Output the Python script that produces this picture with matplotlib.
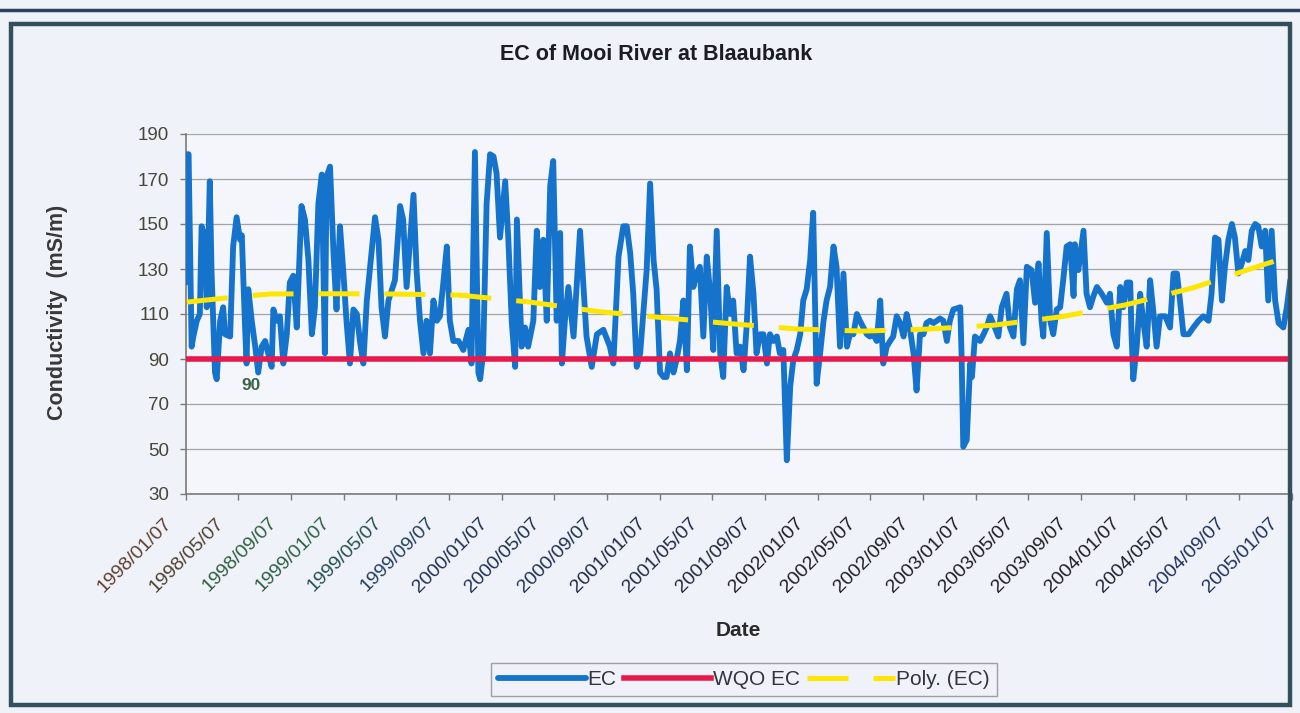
import numpy as np
import matplotlib
matplotlib.use("Agg")
import matplotlib.pyplot as plt
from matplotlib.transforms import ScaledTranslation
from matplotlib.patches import Rectangle
from matplotlib.lines import Line2D

plt.rcParams['font.family'] = ['Liberation Sans', 'DejaVu Sans']

# ---------------- data ----------------
start_date = np.datetime64('1998-01-07')
# EC readings: days since 1998-01-07 and conductivity (mS/m)
ec_days = [0, 2, 6, 13, 17, 25, 32, 36, 44, 48, 55, 59, 67, 71, 79, 86, 90, 102, 109, 117,
           125, 129, 136, 140, 144, 152, 160, 167, 175, 183, 190, 198, 202, 210, 217, 225, 233, 240, 248, 256,
           267, 275, 283, 291, 298, 306, 314, 321, 325, 333, 341, 348, 356, 364, 371, 379, 387, 395, 402, 410,
           418, 437, 445, 452, 460, 468, 483, 495, 502, 510, 526, 533, 541, 549, 556, 564, 572, 580, 587, 595,
           603, 610, 618, 630, 641, 653, 660, 668, 676, 680, 687, 695, 703, 711, 718, 726, 738, 745, 753, 761,
           765, 776, 784, 791, 803, 811, 818, 826, 834, 842, 849, 857, 865, 869, 876, 884, 896,
           911, 919, 926, 938, 950, 965, 980, 988, 1000, 1011, 1019, 1027, 1034, 1042, 1050, 1057, 1065, 1073,
           1081, 1088, 1096, 1104, 1111, 1119, 1127, 1134, 1142, 1150, 1158, 1165, 1173, 1181, 1188, 1196, 1204,
           1212, 1219, 1227, 1235, 1242, 1250, 1258, 1265, 1273, 1281, 1289, 1296, 1304, 1312, 1319, 1327, 1335,
           1343, 1350, 1358, 1366, 1373, 1381, 1385, 1389, 1397, 1404, 1412, 1420, 1427, 1435, 1443, 1450, 1458,
           1466, 1474, 1481, 1489, 1497, 1504, 1512, 1520, 1528, 1535, 1543, 1551, 1558, 1566, 1574, 1581, 1589,
           1597, 1605, 1612, 1620, 1628, 1635, 1643, 1651, 1659, 1666, 1674, 1682, 1689, 1697, 1705, 1712, 1720,
           1728, 1736, 1743, 1751, 1759, 1766, 1774, 1782, 1790, 1793, 1797, 1805, 1813,
           1817, 1824, 1836, 1844, 1851, 1859, 1870, 1878, 1886, 1897, 1905, 1913, 1921, 1928, 1936, 1944, 1955,
           1963, 1971, 1978, 1982, 1990, 1998, 2005, 2013, 2021, 2028, 2036, 2044, 2052, 2055, 2063, 2075, 2082,
           2090, 2098, 2106, 2117, 2129, 2136, 2144, 2152, 2160, 2167, 2175, 2183, 2186, 2190, 2198, 2206, 2213,
           2221, 2229, 2237, 2244, 2252, 2264, 2275, 2283, 2291, 2298, 2306, 2318, 2329, 2341, 2352, 2364, 2371,
           2379, 2387, 2395, 2402, 2410, 2418, 2425, 2433, 2441, 2449, 2456, 2464, 2472, 2479, 2487, 2495, 2502,
           2510, 2518, 2526, 2537, 2545, 2553]
ec_values = [124, 181, 181, 95.5, 100, 107, 110, 149, 144, 113, 169, 129.5, 84, 81, 107, 113, 101, 100, 140, 153,
             143, 145, 107, 88, 121, 107, 95.5, 84, 95.5, 98, 92.5, 86.5, 112, 107, 109, 88, 101, 124, 127, 104,
             158, 152, 134, 101, 113, 159, 172, 92.5, 171, 175.5, 137, 112, 149, 128, 107, 88, 112, 110, 98, 88,
             116, 153, 143, 113, 100, 116, 125, 158, 152, 122, 163, 129.5, 107, 92.5, 107, 92.5, 116, 107, 109, 124,
             140, 107, 98, 98, 94, 103, 88, 182, 84, 81, 92.5, 159, 181, 180, 172.5, 144, 169, 144, 107, 86.5,
             152, 95.5, 104, 95.5, 107, 147, 122, 143, 107, 167, 178, 107, 146, 88, 107, 122, 100,
             147, 122, 100, 86.5, 101, 103, 95.5, 88, 135.5, 149, 149, 137, 119, 86.5, 92.5, 110, 129.5, 168,
             134, 121, 84, 82, 82, 92.5, 84, 89.5, 98, 116, 85, 140, 122, 128, 131, 100, 135.5,
             119, 94, 147, 92.5, 82, 122, 110, 116, 92.5, 95.5, 85, 104, 135.5, 119, 92.5, 101, 101,
             88, 101, 98, 100, 92.5, 94, 70, 45, 78, 89.5, 94, 101, 116, 121, 134, 155, 79,
             92.5, 107, 116, 122, 140, 131, 95.5, 128, 95.5, 101, 101, 110, 107, 104, 101, 100, 101,
             98, 116, 88, 95.5, 98, 100, 109, 106, 100, 110, 103, 92.5, 76, 101, 101, 106, 107,
             106, 107, 108, 107, 98, 107, 112, 112.5, 113, 92.5, 51, 54, 88,
             82, 100, 98, 101, 104, 109, 104, 100, 113, 119, 104, 100, 121, 125, 97, 131, 129.5,
             115, 132.5, 107, 100, 146, 107, 101, 112, 113, 125, 140, 141, 118, 141, 129.5, 147, 119,
             113, 118, 122, 119, 115, 119, 101, 95.5, 122, 113, 124, 124, 101, 81, 95.5, 119, 107,
             95.5, 125, 110, 95.5, 109, 109, 104, 128, 128, 116, 101, 101, 104, 107, 109, 107, 119,
             144, 143, 116, 131, 143, 150, 144, 128, 132.5, 138, 134, 147, 150, 149, 140, 147, 116,
             147, 116, 106, 104, 113, 125]

# Water quality objective
wqo_value = 90

# Polynomial trend (EC)
trend_days = [2, 102, 194, 330, 472, 633, 795, 957, 1112, 1265, 1415, 1565, 1716, 1866, 2021, 2171,
              2326, 2476, 2525]
trend_values = [115.3, 117.3, 118.9, 119.0, 118.9, 118.4, 115.3, 111.0, 108.2, 105.6, 103.3, 102.4,
                103.3, 105.0, 108.7, 114.0, 121.5, 131.0, 134.0]

tick_labels = ['1998/01/07', '1998/05/07', '1998/09/07', '1999/01/07', '1999/05/07', '1999/09/07',
               '2000/01/07', '2000/05/07', '2000/09/07', '2001/01/07', '2001/05/07', '2001/09/07',
               '2002/01/07', '2002/05/07', '2002/09/07', '2003/01/07', '2003/05/07', '2003/09/07',
               '2004/01/07', '2004/05/07', '2004/09/07', '2005/01/07']
tick_colors = ['#5e4030', '#50402f', '#2f5e40', '#2e5e44', '#24504e', '#22405e',
               '#203050', '#203050', '#20304e', '#202a44', '#202a44', '#20263c',
               '#1e1e22', '#1e1e22', '#1e1e22', '#1e1e22', '#1e1e22', '#1e1e22',
               '#1e1e22', '#1e2230', '#20305c', '#20305c']
y_ticks = [30, 50, 70, 90, 110, 130, 150, 170, 190]

# ---------------- figure ----------------
W, H = 1300, 713
BG = '#eff2f8'
fig = plt.figure(figsize=(W / 100, H / 100), dpi=100, facecolor=BG)

def fx(px):
    return px / W

def fy(py):
    return 1 - py / H

ax = fig.add_axes([fx(186), fy(494), fx(1292) - fx(186), fy(134) - fy(494)])
ax.set_facecolor('#f4f6fb')

ec_dates = start_date + np.array(ec_days).astype('timedelta64[D]')
tr_dates = start_date + np.array(trend_days).astype('timedelta64[D]')
tick_dates = [np.datetime64(s.replace('/', '-')) for s in tick_labels]

ax.plot(ec_dates, ec_values, color='#1673cc', lw=4.2, solid_joinstyle='round',
        solid_capstyle='round', label='EC', zorder=3)
ax.plot(ec_dates, np.full(len(ec_days), wqo_value), color='#e8194c', lw=4.0, label='WQO EC', zorder=4)
ax.plot(tr_dates, trend_values, color='#ffe600', lw=3.6, ls=(0, (8.2, 5.0)), label='Poly. (EC)',
        zorder=5)

ax.text(ec_dates[0] + np.timedelta64(128, 'D'), 78.3, '90', color='#3a6448', fontsize=12.5,
        fontweight='bold', ha='left', va='center', zorder=6)

ax.set_ylim(30, 190)
ax.set_xlim(start_date, np.datetime64('2005-01-07'))
ax.set_yticks(y_ticks)
ax.set_yticklabels([str(v) for v in y_ticks])
ax.grid(axis='y', color='#a4a4a4', lw=0.9)
ax.set_axisbelow(True)

for s in ['top', 'right']:
    ax.spines[s].set_visible(False)
for s in ['left', 'bottom']:
    ax.spines[s].set_color('#7a7a7a')
    ax.spines[s].set_linewidth(1.2)

ax.tick_params(axis='y', direction='out', length=4, width=1, color='#7a7a7a', pad=8,
               labelsize=13.5, labelcolor='#46463a')
ax.tick_params(axis='x', direction='out', length=4, width=1, color='#7a7a7a', pad=15,
               labelsize=14)

ax.set_xticks(tick_dates)
ax.set_xticklabels(tick_labels)
offset = ScaledTranslation(-0.17, 0, fig.dpi_scale_trans)
for lbl, c in zip(ax.get_xticklabels(), tick_colors):
    lbl.set_rotation(45)
    lbl.set_rotation_mode('anchor')
    lbl.set_ha('right')
    lbl.set_va('center')
    lbl.set_color(c)
    lbl.set_transform(lbl.get_transform() + offset)

# texts
fig.text(fx(656), fy(55), 'EC of Mooi River at Blaaubank', ha='center', va='center',
         fontsize=15.5, fontweight='bold', color='#1c1c22')
fig.text(fx(58), fy(312), 'Conductivity  (mS/m)', ha='center', va='center', rotation=90,
         fontsize=15.5, fontweight='bold', color='#383838')
fig.text(fx(738), fy(630), 'Date', ha='center', va='center', fontsize=15, fontweight='bold',
         color='#2a2a2a')

leg = fig.legend(loc='center', bbox_to_anchor=(fx(744), fy(679.5)), ncol=3, frameon=True,
                 fancybox=False, fontsize=15, handlelength=4.2, handletextpad=0.08,
                 columnspacing=0.35, borderpad=0.35, edgecolor='#8a8a8a', facecolor=BG)
leg.get_frame().set_linewidth(1.0)
for t in leg.get_texts():
    t.set_color('#34343e')

# chart frame and page line
fig.add_artist(Rectangle((fx(11), fy(705)), fx(1290) - fx(11), fy(24) - fy(705),
                         transform=fig.transFigure, fill=False, edgecolor='#34505c', lw=3.2,
                         zorder=10))
fig.add_artist(Line2D([0, 1], [fy(10), fy(10)], transform=fig.transFigure, color='#2e4060',
                      lw=2.5, zorder=10))

fig.savefig('out.png', dpi=100, facecolor=BG)
